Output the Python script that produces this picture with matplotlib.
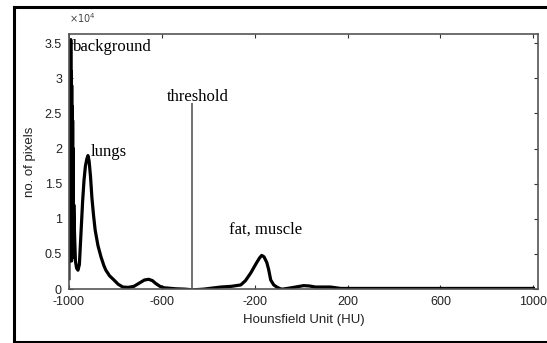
import matplotlib
matplotlib.use('Agg')
import matplotlib.pyplot as plt
from matplotlib.lines import Line2D
from matplotlib.ticker import FuncFormatter

# histogram of CT values
hu = [-1000, -998, -997, -996, -995, -994, -993, -992, -991, -990, -989, -988, -987,
      -986, -985, -984, -983, -982, -981, -979, -976, -972,
      -967, -961, -955, -948, -941, -935, -929, -923, -918, -913, -907, -901, -894,
      -887, -875, -862, -850, -841, -825, -806, -788, -768, -745, -720, -700, -690,
      -675, -656, -640, -626, -608, -591, -540, -500, -467, -420, -346, -300, -260,
      -240, -217, -205, -191, -180, -170, -160, -148, -140, -131, -118, -105, -90,
      -80, -50, -24, 11, 35, 62, 127, 170, 250, 500, 750, 1000]
pixels = [1500, 30000, 6000, 32000, 9000, 34000, 5000, 35500, 8000, 31000, 4000, 29000, 7000,
          26000, 5000, 24000, 6000, 20000, 4500, 12000, 8000, 4000,
          3000, 2700, 3500, 8000, 12500, 15500, 17500, 18500, 19000, 18200, 16000, 13000, 10500,
          8400, 6200, 4600, 3400, 2700, 1900, 1300, 700, 300, 250, 400, 800, 1000,
          1300, 1400, 1200, 800, 400, 200, 50, 0, -100, 0, 300, 400, 600,
          1200, 2300, 3000, 3800, 4400, 4800, 4600, 3800, 2800, 1300, 600, 300, 50,
          0, 150, 300, 500, 450, 300, 300, 100, 100, 100, 100, 100]

threshold_hu = -470
threshold_top = 26500
xticks = [-1000, -600, -200, 200, 600, 1000]
yticks = [0, 5000, 10000, 15000, 20000, 25000, 30000, 35000]

fig = plt.figure(figsize=(5.47, 3.43), dpi=100)
ax = fig.add_axes([0.126, 0.157, 0.858, 0.744])

ax.plot(hu, pixels, color='black', lw=2.3, solid_joinstyle='round')
ax.vlines(threshold_hu, 0, threshold_top, color='#666666', lw=1.3)

serif = ['Liberation Serif', 'DejaVu Serif']
ax.text(-983, 34400, 'background', family=serif, fontsize=12, ha='left', va='center', color='black')
ax.text(-905, 19500, 'lungs', family=serif, fontsize=12, ha='left', va='center', color='black')
ax.text(-445, 27300, 'threshold', family=serif, fontsize=12, ha='center', va='center', color='black')
ax.text(-153, 8400, 'fat, muscle', family=serif, fontsize=12, ha='center', va='center', color='black')

ax.set_xlim(-1000, 1021)
ax.set_ylim(0, 36300)
ax.set_xticks(xticks)
ax.set_yticks(yticks)
ax.xaxis.set_major_formatter(FuncFormatter(lambda v, p: f'{v:g}'))
ax.yaxis.set_major_formatter(FuncFormatter(lambda v, p: f'{v / 1e4:g}'))
ax.tick_params(direction='in', length=3, width=0.8, top=True, right=True,
               labelsize=9, colors='#333333', labelcolor='#222222', pad=5)
for lab in ax.get_xticklabels() + ax.get_yticklabels():
    lab.set_family(['Liberation Sans', 'DejaVu Sans'])
for s in ax.spines.values():
    s.set_color('#555555')
    s.set_linewidth(1.2)

ax.text(0.0, 1.035, r'$\times10^4$', transform=ax.transAxes, fontsize=7, color='#444444',
        ha='left', va='bottom')
ax.set_xlabel('Hounsfield Unit (HU)', fontsize=9.5, family=['Liberation Sans', 'DejaVu Sans'],
              color='#222222', labelpad=4)
ax.set_ylabel('no. of pixels', fontsize=9.5, family=['Liberation Sans', 'DejaVu Sans'],
              color='#222222', labelpad=6)

# outer frame of the scanned figure
W, H = 547, 343
for (x0, y0, x1, y1) in [(14, 7, 547, 7), (14, 7, 14, 342), (14, 342, 547, 342)]:
    fig.add_artist(Line2D([x0 / W, x1 / W], [1 - y0 / H, 1 - y1 / H], color='black', lw=2.2))

fig.savefig('out.png', dpi=100)
